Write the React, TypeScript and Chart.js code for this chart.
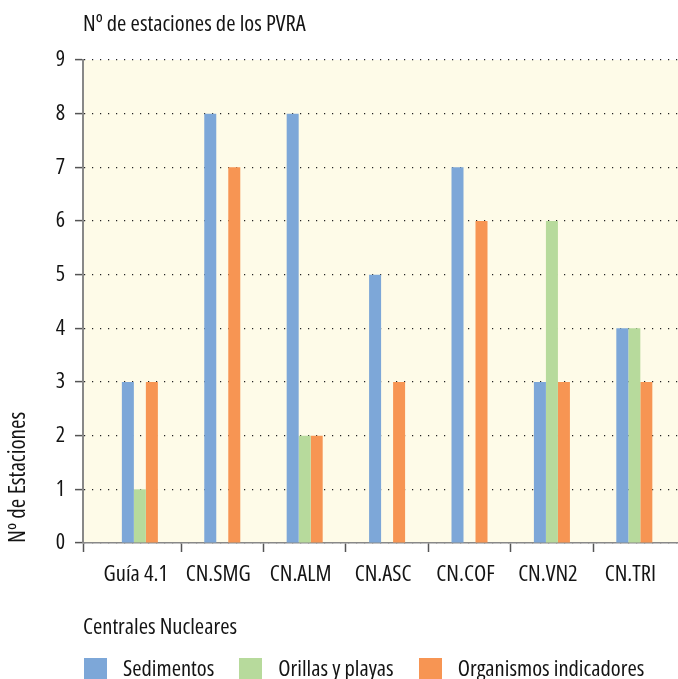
import React, { useEffect, useRef } from "react";
import { Chart, registerables } from "chart.js";

Chart.register(...registerables);

const categories = ["Guía 4.1", "CN.SMG", "CN.ALM", "CN.ASC", "CN.COF", "CN.VN2", "CN.TRI"];
const sedimentos = [3, 8, 8, 5, 7, 3, 4];
const orillas = [1, 0, 2, 0, 0, 6, 4];
const organismos = [3, 7, 2, 3, 6, 3, 3];
const seriesNames = ["Sedimentos", "Orillas y playas", "Organismos indicadores"];
const seriesColors = ["#7DA7D8", "#B7DA9C", "#F79553"];
const chartTitle = "Nº de estaciones de los PVRA";
const yTitle = "Nº de Estaciones";
const xTitle = "Centrales Nucleares";

const FAMILY = '"Open Sans", "Roboto Condensed", sans-serif';
const STRETCH = "condensed";
const TEXT = "#141414";
const X_MIN = -0.69;
const X_MAX = 6.53;

const f = (size: number) => ({ family: FAMILY, size, weight: STRETCH as any });

const bgPlugin = {
  id: "plotBg",
  beforeDraw(chart: any) {
    const { ctx, chartArea } = chart;
    if (!chartArea) return;
    ctx.save();
    ctx.fillStyle = "#FEFBE8";
    ctx.fillRect(chartArea.left, chartArea.top, chartArea.right - chartArea.left, chartArea.bottom - chartArea.top);
    ctx.restore();
  },
};

export default function App() {
  const ref = useRef<HTMLCanvasElement | null>(null);

  useEffect(() => {
    if (!ref.current) return;
    const series = [sedimentos, orillas, organismos];
    const chart = new Chart(ref.current, {
      type: "bar",
      data: {
        datasets: series.map((vals, s) => ({
          label: seriesNames[s],
          data: vals.map((v, i) => ({ x: i, y: v })),
          backgroundColor: seriesColors[s],
          borderWidth: 0,
          categoryPercentage: 0.437,
          barPercentage: 1,
          xAxisID: "x",
          yAxisID: "y",
        })),
      },
      options: {
        animation: false,
        responsive: false,
        devicePixelRatio: 1,
        layout: { padding: { left: 0, right: 0, top: 0, bottom: 35 } },
        plugins: {
          legend: { display: false },
          tooltip: { enabled: false },
          title: {
            display: true,
            text: chartTitle,
            align: "start",
            fullSize: false,
            color: TEXT,
            font: f(22.5),
            padding: { top: 11, bottom: 22 },
          },
        },
        scales: {
          xm: {
            type: "linear",
            position: "bottom",
            weight: 0,
            min: X_MIN,
            max: X_MAX,
            offset: false,
            afterBuildTicks: (scale: any) => {
              const t = [{ value: X_MIN }];
              for (let i = 0; i < categories.length - 1; i++) t.push({ value: i + 0.5 });
              scale.ticks = t;
            },
            afterFit: (scale: any) => {
              scale.height = 9;
            },
            ticks: { display: false },
            grid: { display: true, offset: false, drawOnChartArea: false, drawTicks: true, tickLength: 9, tickColor: "#555", tickWidth: 1.5 },
            border: { display: true, color: "#888", width: 1.5 },
          },
          x: {
            type: "linear",
            position: "bottom",
            weight: 1,
            min: X_MIN,
            max: X_MAX,
            offset: false,
            afterBuildTicks: (scale: any) => {
              scale.ticks = categories.map((_, i) => ({ value: i }));
            },
            afterFit: (scale: any) => {
              scale.height = 92;
            },
            ticks: {
              autoSkip: false,
              maxRotation: 0,
              padding: 1,
              labelOffset: -4,
              color: TEXT,
              font: f(22.5),
              callback: (v: any) => categories[Math.round(Number(v))] ?? "",
            },
            grid: { display: false, offset: false },
            border: { display: false },
            title: {
              display: true,
              text: xTitle,
              align: "start",
              color: TEXT,
              font: f(22.5),
              padding: { top: 0, bottom: 2.5 },
            },
          },
          y: {
            type: "linear",
            position: "left",
            min: 0,
            max: 9,
            afterFit: (scale: any) => {
              scale.width = 83;
            },
            ticks: {
              stepSize: 1,
              padding: 10,
              color: TEXT,
              font: f(22),
            },
            grid: { color: "#222", lineWidth: 1.2, drawTicks: true, tickLength: 8, tickColor: "#555", tickWidth: 1.5 },
            border: { display: true, color: "#888", width: 2, dash: [1.2, 6.8] },
            title: {
              display: true,
              text: yTitle,
              align: "start",
              color: TEXT,
              font: f(23),
              padding: { top: 5, bottom: 0 },
            },
          },
        },
      },
      plugins: [bgPlugin],
    } as any);
    return () => chart.destroy();
  }, []);

  return (
    <div style={{ position: "absolute", left: 0, top: 0, width: 678, height: 679, overflow: "hidden", background: "#fff" }}>
      <canvas ref={ref} width={678} height={679} style={{ display: "block" }} />
      <div
        style={{
          position: "absolute",
          left: 84,
          top: 654,
          display: "flex",
          alignItems: "flex-start",
          fontFamily: FAMILY,
          fontStretch: STRETCH,
          fontSize: 22.5,
          color: TEXT,
          whiteSpace: "nowrap",
        }}
      >
        {seriesNames.map((n, i) => (
          <div key={n} style={{ display: "flex", alignItems: "flex-start", marginRight: 25 }}>
            <span style={{ display: "inline-block", width: 23, height: 23, background: seriesColors[i], marginTop: 4, marginRight: 16 }} />
            <span style={{ lineHeight: "27px" }}>{n}</span>
          </div>
        ))}
      </div>
    </div>
  );
}
